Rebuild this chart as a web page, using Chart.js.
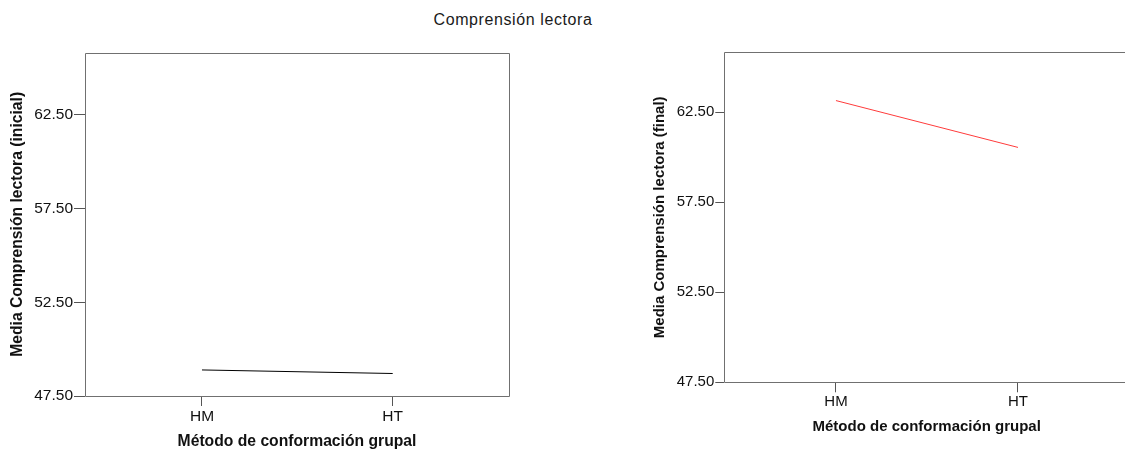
<!DOCTYPE html>
<html><head><meta charset="utf-8">
<script src="https://cdn.jsdelivr.net/npm/chart.js@4"></script>
<style>
html,body{margin:0;padding:0;background:#fff;overflow:hidden;width:1125px;height:451px;position:relative}
#title{position:absolute;left:513px;top:12px;transform:translateX(-50%);font:16px/16px "Liberation Sans",Arial,sans-serif;letter-spacing:0.6px;color:#1a1a1a;white-space:nowrap}
canvas{position:absolute;top:0}
#c1{left:0}
#c2{left:620px}
</style></head><body>
<div id="title"></div>
<canvas id="c1" width="520" height="451" style="width:520px;height:451px"></canvas>
<canvas id="c2" width="520" height="451" style="width:520px;height:451px"></canvas>
<script>
const chartTitle = 'Comprensión lectora';
const categories = ['HM', 'HT'];
const inicialValues = [48.89, 48.70];
const finalValues = [63.14, 60.54];
const yTickValues = [47.5, 52.5, 57.5, 62.5];
const yTickLabels = ['47.50', '52.50', '57.50', '62.50'];
const yMin = 47.5;
const yMax = 65.82;
const xTitle = 'Método de conformación grupal';
const yTitleInicial = 'Media Comprensión lectora (inicial)';
const yTitleFinal = 'Media Comprensión lectora (final)';

document.getElementById('title').textContent = chartTitle;

const FONT = '"Liberation Sans", Arial, sans-serif';
const frame = {
  id: 'frame',
  afterDatasetsDraw(chart) {
    const {ctx, chartArea: a} = chart;
    ctx.save();
    ctx.strokeStyle = '#707070';
    ctx.lineWidth = 1;
    const l = Math.round(a.left) + 0.5, t = Math.round(a.top) + 0.5;
    const r = Math.round(a.right) + 0.5, b = Math.round(a.bottom) + 0.5;
    ctx.beginPath();
    ctx.moveTo(l, b); ctx.lineTo(l, t); ctx.lineTo(r, t); ctx.lineTo(r, b); ctx.lineTo(l, b);
    ctx.stroke();
    ctx.restore();
  }
};

function makeChart(id, values, color, yTitle, g) {
  return new Chart(document.getElementById(id), {
    type: 'line',
    data: {
      datasets: [{
        data: values.map((v, i) => ({x: i, y: v})),
        borderColor: color,
        borderWidth: 1,
        pointRadius: 0,
        pointHoverRadius: 0,
        tension: 0,
        fill: false
      }]
    },
    options: {
      responsive: false,
      animation: false,
      devicePixelRatio: 1,
      events: [],
      layout: {padding: g.padding},
      plugins: {legend: {display: false}, tooltip: {enabled: false}, title: {display: false}},
      scales: {
        x: {
          type: 'linear',
          min: -0.6134,
          max: 1.6098,
          afterBuildTicks: (s) => { s.ticks = categories.map((c, i) => ({value: i})); },
          afterFit: (s) => { s.height = g.xHeight; },
          border: {display: false},
          grid: {drawOnChartArea: false, drawTicks: true, tickLength: g.xTickLen, color: '#555', lineWidth: 1},
          ticks: {
            autoSkip: false, maxRotation: 0, padding: 1, color: '#111',
            font: {family: FONT, size: g.tickSize},
            callback: (v) => categories[v] !== undefined ? categories[v] : ''
          },
          title: {display: true, text: xTitle, color: '#111', padding: 0,
            font: {family: FONT, size: g.titleSize, weight: 'bold'}}
        },
        y: {
          type: 'linear',
          min: yMin,
          max: yMax,
          afterBuildTicks: (s) => { s.ticks = yTickValues.map(v => ({value: v})); },
          afterFit: (s) => { s.width = g.yWidth; },
          border: {display: false},
          grid: {drawOnChartArea: false, drawTicks: true, tickLength: g.yTickLen, color: '#555', lineWidth: 1},
          ticks: {
            autoSkip: false, padding: 1, color: '#111',
            font: {family: FONT, size: g.tickSize},
            callback: (v, i) => yTickLabels[i]
          },
          title: {display: true, text: yTitle, color: '#111', padding: 0,
            font: {family: FONT, size: g.titleSize, weight: 'bold'}}
        }
      }
    },
    plugins: [frame]
  });
}

makeChart('c1', inicialValues, '#000000', yTitleInicial, {
  padding: {left: 8.6, top: 52.7, right: 11, bottom: 0},
  yWidth: 76.4, xHeight: 55, tickSize: 15.5, titleSize: 15.7, yTickLen: 11, xTickLen: 10
});
makeChart('c2', finalValues, '#ff3b3b', yTitleFinal, {
  padding: {left: 31, top: 52.3, right: 11, bottom: 15.3},
  yWidth: 73.3, xHeight: 53.4, tickSize: 15, titleSize: 15, yTickLen: 9, xTickLen: 10
});
</script>
</body></html>
